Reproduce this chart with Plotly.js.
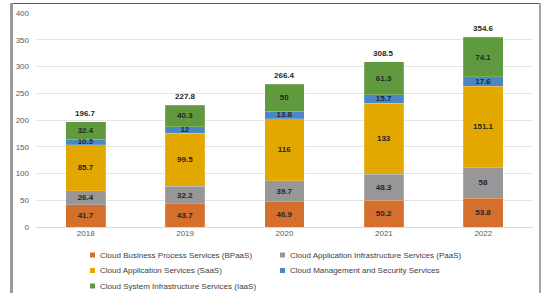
<!DOCTYPE html>
<html>
<head>
<meta charset="utf-8">
<script src="https://cdn.plot.ly/plotly-3.0.1.min.js"></script>
<style>html,body{margin:0;padding:0;background:#fff;}#chart{width:543px;height:293px;}</style>
</head>
<body>
<div id="chart"></div>
<script>
const years = ['2018', '2019', '2020', '2021', '2022'];
const seriesNames = [
  'Cloud Business Process Services (BPaaS)',
  'Cloud Application Infrastructure Services (PaaS)',
  'Cloud Application Services (SaaS)',
  'Cloud Management and Security Services',
  'Cloud System Infrastructure Services (IaaS)'
];
const bpaas = [41.7, 43.7, 46.9, 50.2, 53.8];
const paas = [26.4, 32.2, 39.7, 48.3, 58];
const saas = [85.7, 99.5, 116, 133, 151.1];
const mgmt = [10.5, 12, 13.8, 15.7, 17.6];
const iaas = [32.4, 40.3, 50, 61.3, 74.1];
const totals = [196.7, 227.8, 266.4, 308.5, 354.6];
const colors = ['#D4702C', '#979797', '#E3A800', '#4A87C4', '#5F9B3E'];

const seriesValues = [bpaas, paas, saas, mgmt, iaas];
const W = 543, H = 293;
const L = 36, R = 10, T = 13, B = 66;
const pw = W - L - R, ph = H - T - B;
const px = v => (v - L) / pw;
const py = v => (H - B - v) / ph;

const traces = seriesValues.map((vals, i) => ({
  type: 'bar',
  name: seriesNames[i],
  x: years,
  y: vals,
  marker: {color: colors[i], line: {color: 'rgba(255,255,255,0.35)', width: 0.5}},
  text: vals.map(v => String(v)),
  texttemplate: '<b>%{text}</b>',
  textposition: 'inside',
  insidetextanchor: 'middle',
  constraintext: 'none',
  textfont: {family: 'Liberation Sans, Arial, sans-serif', size: 8, color: '#262626'},
  hoverinfo: 'skip',
  showlegend: false
}));

const annotations = years.map((yr, i) => ({
  x: i, y: totals[i], xref: 'x', yref: 'y',
  text: '<b>' + totals[i] + '</b>',
  showarrow: false, yanchor: 'bottom', yshift: 2,
  font: {family: 'Liberation Sans, Arial, sans-serif', size: 8, color: '#262626'}
}));

const shapes = [];
const legPos = [
  [90, 255], [280, 255],
  [90, 270.5], [280, 270.5],
  [90, 286]
];
seriesNames.forEach((nm, i) => {
  const [lx, ly] = legPos[i];
  shapes.push({type: 'rect', xref: 'paper', yref: 'paper',
    x0: px(lx), x1: px(lx + 5), y0: py(ly + 2.5), y1: py(ly - 2.5),
    fillcolor: colors[i], line: {width: 0}});
  annotations.push({xref: 'paper', yref: 'paper', x: px(lx + 8), y: py(ly),
    xanchor: 'left', yanchor: 'middle', showarrow: false, text: nm,
    font: {family: 'Liberation Sans, Arial, sans-serif', size: 8, color: '#404040'}});
});
shapes.push({type: 'line', xref: 'paper', yref: 'paper', x0: px(10), x1: px(541), y0: py(3.5), y1: py(3.5), line: {color: '#5a5a5a', width: 1}});
shapes.push({type: 'line', xref: 'paper', yref: 'paper', x0: px(11.5), x1: px(11.5), y0: py(3), y1: py(293), line: {color: '#9a9a9a', width: 3}});
shapes.push({type: 'line', xref: 'paper', yref: 'paper', x0: px(540), x1: px(540), y0: py(3), y1: py(293), line: {color: '#a5a5a5', width: 2}});

const layout = {
  width: W, height: H,
  margin: {l: L, r: R, t: T, b: B, pad: 0},
  paper_bgcolor: '#ffffff', plot_bgcolor: '#ffffff',
  barmode: 'stack',
  bargap: 0.6,
  showlegend: false,
  xaxis: {type: 'category', range: [-0.5, 4.5], autorange: false, showgrid: false, showline: false, ticks: '',
    tickfont: {family: 'Liberation Sans, Arial, sans-serif', size: 8, color: '#595959'}, fixedrange: true},
  yaxis: {range: [0, 400], autorange: false, dtick: 50, showline: false, ticks: '', gridcolor: '#e4e4e4', gridwidth: 1,
    zeroline: true, zerolinecolor: '#d9d9d9', zerolinewidth: 1,
    tickfont: {family: 'Liberation Sans, Arial, sans-serif', size: 8, color: '#595959'}, ticklabelstandoff: 6},
  annotations: annotations,
  shapes: shapes,
  font: {family: 'Liberation Sans, Arial, sans-serif'}
};

Plotly.newPlot('chart', traces, layout, {staticPlot: true, displayModeBar: false});
</script>
</body>
</html>
